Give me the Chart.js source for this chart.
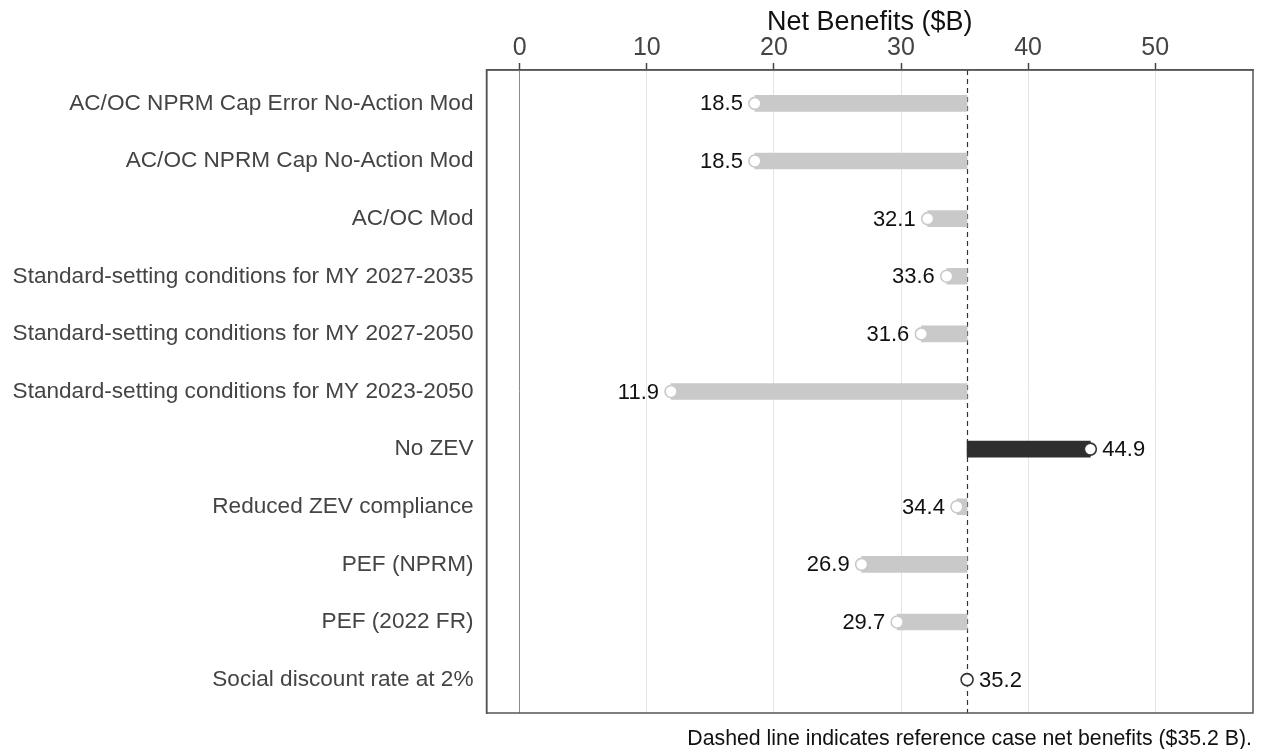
<!DOCTYPE html>
<html>
<head>
<meta charset="utf-8">
<title>Net Benefits sensitivity</title>
<script src="https://cdn.jsdelivr.net/npm/chart.js@4"></script>
<style>
  html, body { margin: 0; padding: 0; background: #fff; }
  #wrap { width: 1265px; height: 749px; position: relative; }
</style>
</head>
<body>
<div id="wrap"><canvas id="netChart"></canvas></div>
<script>
// Sensitivity cases and their net benefits ($B)
const categories = [
    "AC/OC NPRM Cap Error No-Action Mod",
    "AC/OC NPRM Cap No-Action Mod",
    "AC/OC Mod",
    "Standard-setting conditions for MY 2027-2035",
    "Standard-setting conditions for MY 2027-2050",
    "Standard-setting conditions for MY 2023-2050",
    "No ZEV",
    "Reduced ZEV compliance",
    "PEF (NPRM)",
    "PEF (2022 FR)",
    "Social discount rate at 2%"
];
const netBenefits = [18.5, 18.5, 32.1, 33.6, 31.6, 11.9, 44.9, 34.4, 26.9, 29.7, 35.2];
const referenceValue = 35.2;
const xTickValues = [0, 10, 20, 30, 40, 50];
const footnote = "Dashed line indicates reference case net benefits ($35.2 B).";

const FONT = "'Liberation Sans', Arial, sans-serif";
const LIGHT = "#c9c9c9";
const DARK = "#2e2e2e";

const barColors = netBenefits.map(v => v > referenceValue ? DARK : LIGHT);
const markerBorders = netBenefits.map(v => v >= referenceValue ? "#333" : LIGHT);

// dashed vertical line at the reference case
const refLine = {
    id: "refLine",
    beforeDatasetsDraw(chart) {
        const { ctx, chartArea, scales } = chart;
        const x = Math.round(scales.x.getPixelForValue(referenceValue)) + 0.5;
        ctx.save();
        ctx.strokeStyle = "#333";
        ctx.lineWidth = 1.2;
        ctx.setLineDash([5, 4]);
        ctx.beginPath();
        ctx.moveTo(x, chartArea.top);
        ctx.lineTo(x, chartArea.bottom);
        ctx.stroke();
        ctx.restore();
    }
};

// value text beside each marker, plus the frame around the plot
const valueLabels = {
    id: "valueLabels",
    afterDatasetsDraw(chart) {
        const { ctx, chartArea, scales } = chart;
        ctx.save();
        ctx.font = "22px " + FONT;
        ctx.fillStyle = "#111";
        ctx.textBaseline = "middle";
        netBenefits.forEach((v, i) => {
            const x = scales.x.getPixelForValue(v);
            const y = scales.y.getPixelForValue(i);
            if (v < referenceValue) {
                ctx.textAlign = "right";
                ctx.fillText(v.toFixed(1), x - 12, y + 1);
            } else {
                ctx.textAlign = "left";
                ctx.fillText(v.toFixed(1), x + 12, y + 1);
            }
        });
        ctx.strokeStyle = "#555";
        ctx.lineWidth = 1.5;
        ctx.setLineDash([]);
        ctx.strokeRect(chartArea.left, chartArea.top,
            chartArea.right - chartArea.left, chartArea.bottom - chartArea.top);
        ctx.restore();
    },
    afterDraw(chart) {
        const { ctx, chartArea } = chart;
        ctx.save();
        ctx.font = "21.3px " + FONT;
        ctx.fillStyle = "#111";
        ctx.textAlign = "right";
        ctx.textBaseline = "middle";
        ctx.fillText(footnote, chartArea.right - 1, chartArea.bottom + 26);
        ctx.restore();
    }
};

const ctx = document.getElementById("netChart").getContext("2d");
new Chart(ctx, {
    data: {
        datasets: [{
            type: "scatter",
            label: "Net benefits",
            data: netBenefits.map((v, i) => ({ x: v, y: i })),
            pointRadius: 6,
            pointHoverRadius: 6,
            pointBackgroundColor: "#fff",
            pointBorderColor: markerBorders,
            pointBorderWidth: 1.6,
            order: 1
        }, {
            type: "bar",
            label: "Change from reference",
            data: netBenefits.map((v, i) => ({ x: [referenceValue, v], y: i })),
            backgroundColor: barColors,
            borderWidth: 0,
            barThickness: 16,
            order: 2
        }]
    },
    options: {
        indexAxis: "y",
        responsive: true,
        maintainAspectRatio: false,
        animation: false,
        layout: { padding: { left: 0, right: 12, top: 0, bottom: 36 } },
        plugins: {
            legend: { display: false },
            tooltip: { enabled: false }
        },
        scales: {
            x: {
                type: "linear",
                position: "top",
                min: -2.62,
                max: 57.7,
                afterBuildTicks(axis) {
                    axis.ticks = xTickValues.map(v => ({ value: v }));
                },
                afterFit(axis) {
                    axis.height = 70;
                },
                title: {
                    display: true,
                    text: "Net Benefits ($B)",
                    color: "#111",
                    font: { family: FONT, size: 27 },
                    padding: { top: 6, bottom: 0 }
                },
                ticks: {
                    color: "#444",
                    font: { family: FONT, size: 25 },
                    padding: 0
                },
                grid: {
                    color: c => c.tick && c.tick.value === 0 ? "#8c8c8c" : "#e4e4e4",
                    lineWidth: 1,
                    tickLength: 7,
                    tickColor: "#444",
                    tickWidth: 1.5
                },
                border: { display: true, color: "#555", width: 1.5 }
            },
            y: {
                type: "linear",
                reverse: true,
                offset: false,
                min: -0.58,
                max: 10.58,
                afterBuildTicks(axis) {
                    axis.ticks = categories.map((c, i) => ({ value: i }));
                },
                afterFit(axis) {
                    axis.width = 486.5;
                },
                ticks: {
                    autoSkip: false,
                    color: "#444",
                    font: { family: FONT, size: 22.6 },
                    padding: 13,
                    callback: v => categories[v]
                },
                grid: { display: false, drawTicks: false },
                border: { display: true, color: "#555", width: 1.5 }
            }
        }
    },
    plugins: [refLine, valueLabels]
});
</script>
</body>
</html>
